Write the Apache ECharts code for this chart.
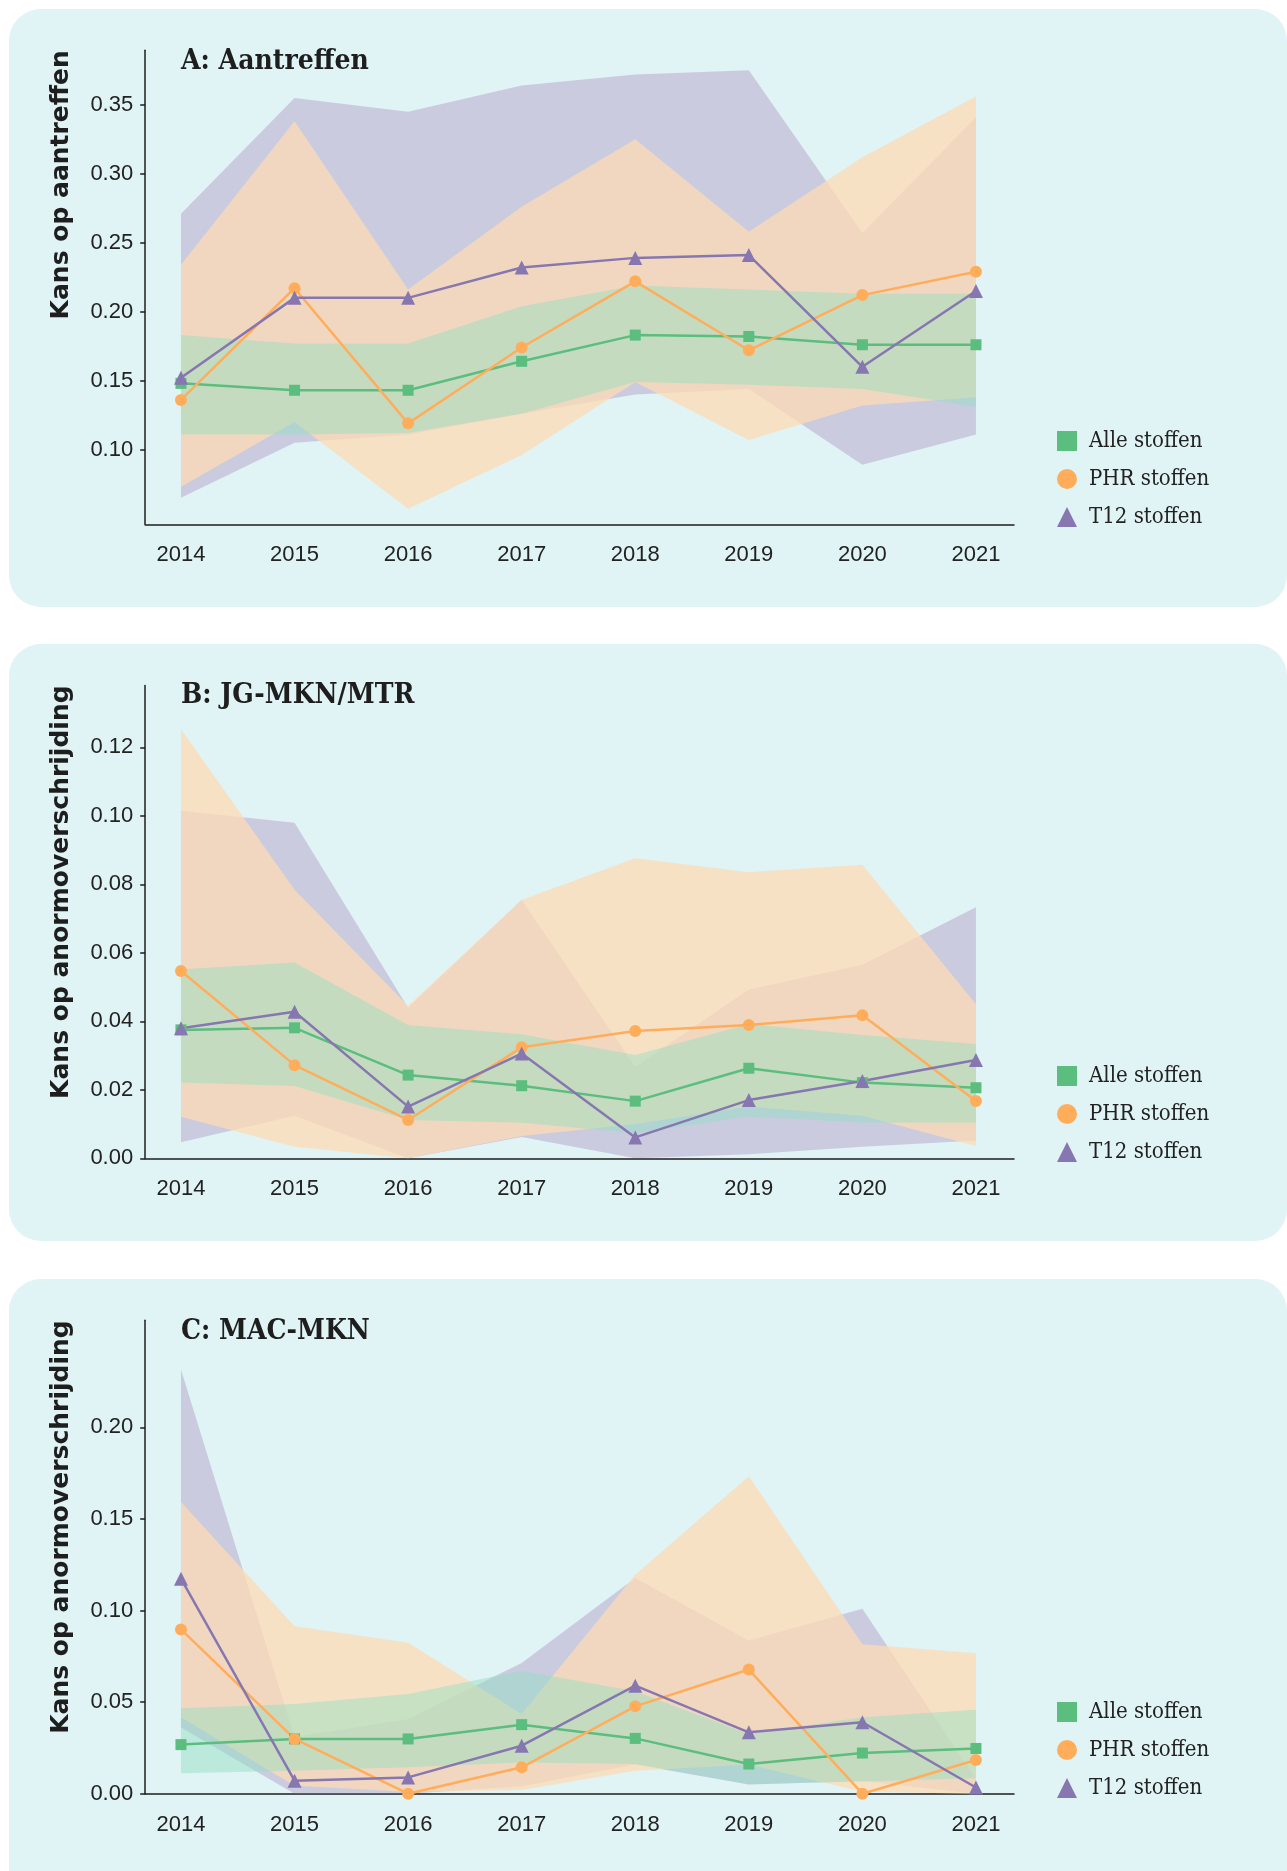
<!DOCTYPE html>
<html>
<head>
<meta charset="utf-8">
<script src="https://cdn.jsdelivr.net/npm/echarts@6/dist/echarts.min.js"></script>
<style>
  html, body { margin: 0; padding: 0; background: #fff; overflow: hidden; }
  .panel { position: absolute; left: 9px; width: 1278px; background: #e0f3f5; border-radius: 32px; }
  #chart { position: absolute; left: 0; top: 0; width: 1287px; height: 1871px; }
</style>
</head>
<body>
<div class="panel" style="top: 9px; height: 598px"></div>
<div class="panel" style="top: 644px; height: 597px"></div>
<div class="panel" style="top: 1279px; height: 640px"></div>
<div id="chart"></div>
<script>
const YEARS = [2014, 2015, 2016, 2017, 2018, 2019, 2020, 2021];

// A: Aantreffen
const A_ALLE = [0.148, 0.143, 0.143, 0.164, 0.183, 0.182, 0.176, 0.176];
const A_ALLE_LO = [0.111, 0.111, 0.112, 0.126, 0.149, 0.147, 0.144, 0.131];
const A_ALLE_HI = [0.183, 0.177, 0.177, 0.204, 0.219, 0.216, 0.213, 0.213];
const A_PHR = [0.136, 0.217, 0.119, 0.174, 0.222, 0.172, 0.212, 0.229];
const A_PHR_LO = [0.073, 0.120, 0.057, 0.096, 0.149, 0.107, 0.132, 0.138];
const A_PHR_HI = [0.234, 0.338, 0.216, 0.276, 0.325, 0.258, 0.312, 0.356];
const A_T12 = [0.152, 0.210, 0.210, 0.232, 0.239, 0.241, 0.160, 0.215];
const A_T12_LO = [0.065, 0.105, 0.111, 0.126, 0.140, 0.144, 0.089, 0.111];
const A_T12_HI = [0.271, 0.355, 0.345, 0.364, 0.372, 0.375, 0.257, 0.341];

// B: JG-MKN/MTR
const B_ALLE = [0.0375, 0.0381, 0.0243, 0.0212, 0.0167, 0.0263, 0.0221, 0.0206];
const B_ALLE_LO = [0.0221, 0.0211, 0.0112, 0.0104, 0.0073, 0.0122, 0.0104, 0.0104];
const B_ALLE_HI = [0.0552, 0.0572, 0.0389, 0.0362, 0.0302, 0.0392, 0.0360, 0.0334];
const B_PHR = [0.0547, 0.0272, 0.0112, 0.0324, 0.0372, 0.0389, 0.0418, 0.0167];
const B_PHR_LO = [0.0121, 0.0034, 0.0000, 0.0065, 0.0100, 0.0151, 0.0124, 0.0036];
const B_PHR_HI = [0.1253, 0.0784, 0.0445, 0.0754, 0.0876, 0.0835, 0.0857, 0.0450];
const B_T12 = [0.0380, 0.0428, 0.0151, 0.0306, 0.0061, 0.0170, 0.0226, 0.0287];
const B_T12_LO = [0.0047, 0.0124, 0.0000, 0.0062, 0.0000, 0.0012, 0.0034, 0.0052];
const B_T12_HI = [0.1015, 0.0980, 0.0440, 0.0754, 0.0267, 0.0493, 0.0565, 0.0733];

// C: MAC-MKN
const C_ALLE = [0.0268, 0.0299, 0.0299, 0.0377, 0.0302, 0.0162, 0.0222, 0.0247];
const C_ALLE_LO = [0.0111, 0.0125, 0.0144, 0.0171, 0.0162, 0.0052, 0.0067, 0.0085];
const C_ALLE_HI = [0.0466, 0.0490, 0.0545, 0.0672, 0.0560, 0.0326, 0.0417, 0.0459];
const C_PHR = [0.0897, 0.0299, 0.0000, 0.0144, 0.0477, 0.0678, 0.0000, 0.0184];
const C_PHR_LO = [0.0417, 0.0043, 0.0010, 0.0020, 0.0125, 0.0160, 0.0010, 0.0000];
const C_PHR_HI = [0.1593, 0.0915, 0.0824, 0.0435, 0.1196, 0.1733, 0.0816, 0.0767];
const C_T12 = [0.1174, 0.0071, 0.0089, 0.0262, 0.0590, 0.0335, 0.0390, 0.0034];
const C_T12_LO = [0.0362, 0.0000, 0.0000, 0.0040, 0.0160, 0.0050, 0.0070, 0.0000];
const C_T12_HI = [0.2317, 0.0310, 0.0408, 0.0714, 0.1178, 0.0837, 0.1010, 0.0080];

const TICKS_A = [0.10, 0.15, 0.20, 0.25, 0.30, 0.35];
const TICKS_B = [0.00, 0.02, 0.04, 0.06, 0.08, 0.10, 0.12];
const TICKS_C = [0.00, 0.05, 0.10, 0.15, 0.20];

const LEGEND_NAMES = ["Alle stoffen", "PHR stoffen", "T12 stoffen"];

const GREEN = "#5bbd7e";
const ORANGE = "#ffad5b";
const PURPLE = "#8777b1";
const INK = "#1e1e1e";
const NUM_FONT = "Liberation Sans";

const pairs = (vals) => vals.map((v, i) => [YEARS[i], v]);

// band between lo and hi, drawn as one polygon through the axis scales
const bandSeries = (idx, lo, hi, fill) => ({
  type: "custom",
  xAxisIndex: idx,
  yAxisIndex: idx,
  silent: true,
  z: 1,
  data: YEARS.map((y, i) => [y, lo[i], hi[i]]),
  encode: { x: 0, y: [1, 2] },
  renderItem: (params, api) => {
    if (params.dataIndex !== 0) return null;
    const pts = [];
    for (let i = 0; i < YEARS.length; i++) pts.push(api.coord([YEARS[i], hi[i]]));
    for (let i = YEARS.length - 1; i >= 0; i--) pts.push(api.coord([YEARS[i], lo[i]]));
    return { type: "polygon", shape: { points: pts }, style: { fill: fill } };
  }
});

const lineSeries = (idx, name, vals, color, symbol, size) => ({
  type: "line",
  name: name,
  xAxisIndex: idx,
  yAxisIndex: idx,
  data: pairs(vals),
  symbol: symbol,
  symbolSize: size,
  clip: false,
  z: 5,
  lineStyle: { color: color, width: 2.5 },
  itemStyle: { color: color }
});

const panels = [
  { top: 50.2, bottom: 524.3, min: 0.0458, max: 0.3896, ticks: TICKS_A,
    alle: [A_ALLE, A_ALLE_LO, A_ALLE_HI], phr: [A_PHR, A_PHR_LO, A_PHR_HI], t12: [A_T12, A_T12_LO, A_T12_HI],
    title: "A: Aantreffen", titleY: 62, yName: "Kans op aantreffen", legendTop: 425 },
  { top: 685.4, bottom: 1158.3, min: 0, max: 0.1381, ticks: TICKS_B,
    alle: [B_ALLE, B_ALLE_LO, B_ALLE_HI], phr: [B_PHR, B_PHR_LO, B_PHR_HI], t12: [B_T12, B_T12_LO, B_T12_HI],
    title: "B: JG-MKN/MTR", titleY: 696, yName: "Kans op anormoverschrijding", legendTop: 1060 },
  { top: 1320.3, bottom: 1793.7, min: 0, max: 0.2585, ticks: TICKS_C,
    alle: [C_ALLE, C_ALLE_LO, C_ALLE_HI], phr: [C_PHR, C_PHR_LO, C_PHR_HI], t12: [C_T12, C_T12_LO, C_T12_HI],
    title: "C: MAC-MKN", titleY: 1331.5, yName: "Kans op anormoverschrijding", legendTop: 1696 }
];

const X_MIN = 2013.685;
const X_MAX = 2021.335;

const grid = [];
const xAxis = [];
const yAxis = [];
const series = [];
const legend = [];
const graphic = [];

panels.forEach((p, i) => {
  grid.push({ left: 145.2, width: 868.8, top: p.top, height: p.bottom - p.top });
  xAxis.push({
    gridIndex: i,
    type: "value",
    min: X_MIN,
    max: X_MAX,
    axisLine: { onZero: false, lineStyle: { color: INK, width: 1.5 } },
    axisTick: { show: false },
    splitLine: { show: false },
    axisLabel: { customValues: YEARS, formatter: (v) => String(v), margin: 20, fontSize: 22, fontFamily: NUM_FONT, color: "#222" }
  });
  yAxis.push({
    gridIndex: i,
    type: "value",
    min: p.min,
    max: p.max,
    axisLine: { show: true, onZero: false, lineStyle: { color: INK, width: 1.5 } },
    axisTick: { show: true, length: 5, customValues: p.ticks, lineStyle: { color: INK, width: 1.5 } },
    splitLine: { show: false },
    axisLabel: { customValues: p.ticks, formatter: (v) => v.toFixed(2), margin: 12, fontSize: 22, fontFamily: NUM_FONT, color: "#222" }
  });

  series.push(bandSeries(i, p.t12[1], p.t12[2], "rgba(152,114,173,0.3)"));
  series.push(bandSeries(i, p.phr[1], p.phr[2], "rgba(254,219,179,0.75)"));
  series.push(bandSeries(i, p.alle[1], p.alle[2], "rgba(143,224,194,0.45)"));
  series.push(lineSeries(i, LEGEND_NAMES[0], p.alle[0], GREEN, "rect", 11));
  series.push(lineSeries(i, LEGEND_NAMES[1], p.phr[0], ORANGE, "circle", 12));
  series.push(lineSeries(i, LEGEND_NAMES[2], p.t12[0], PURPLE, "triangle", 14));

  legend.push({
    left: 1052,
    top: p.legendTop,
    orient: "vertical",
    itemWidth: 20,
    itemHeight: 20,
    itemGap: 16,
    selectedMode: false,
    data: [
      { name: LEGEND_NAMES[0], icon: "rect" },
      { name: LEGEND_NAMES[1], icon: "circle" },
      { name: LEGEND_NAMES[2], icon: "triangle" }
    ],
    textStyle: { fontFamily: "DejaVu Serif Condensed", fontSize: 22, color: "#222", lineHeight: 20, padding: [0, 0, 0, 7] }
  });

  graphic.push({
    type: "text",
    x: 181,
    y: p.titleY,
    style: { text: p.title, font: 'bold 28px "DejaVu Serif Condensed"', fill: INK, verticalAlign: "middle" }
  });
  graphic.push({
    type: "text",
    x: 61,
    y: p.top,
    rotation: Math.PI / 2,
    style: { text: p.yName, font: 'bold 25px "DejaVu Sans"', fill: INK, align: "right", verticalAlign: "middle" }
  });
});

const chart = echarts.init(document.getElementById("chart"));
chart.setOption({
  animation: false,
  backgroundColor: "transparent",
  grid: grid,
  xAxis: xAxis,
  yAxis: yAxis,
  legend: legend,
  graphic: graphic,
  series: series
});
</script>
</body>
</html>
